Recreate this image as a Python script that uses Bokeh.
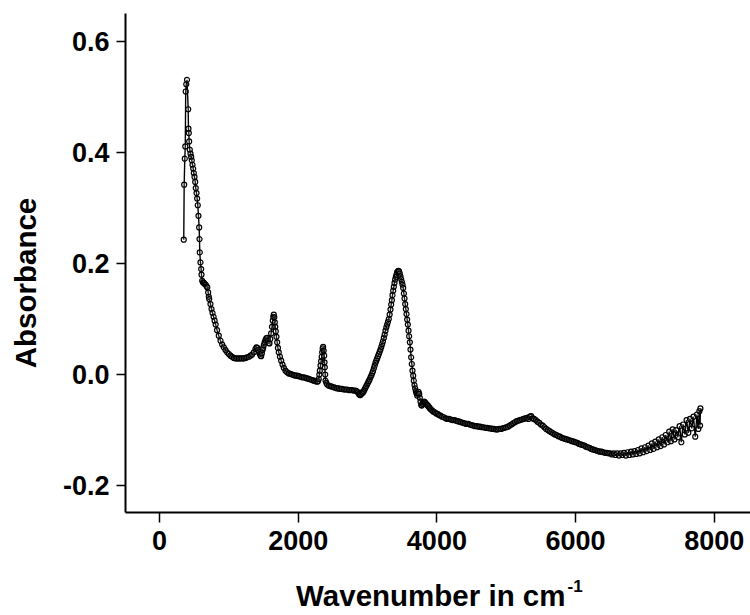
import numpy as np
from bokeh.plotting import figure
from bokeh.models import Range1d, FixedTicker, Label
from bokeh.embed import file_html
from bokeh.resources import INLINE

# ---- data ----
wn1 = [350, 356, 365, 372, 378,
       386, 397, 414, 418, 423,
       428, 437, 447, 457, 466,
       476, 486, 495, 505, 515,
       523, 534, 543, 552, 562,
       572, 577, 581, 591, 601,
       606, 616, 628, 639, 652,
       668, 680, 690, 702, 711,
       717]
ab1 = [0.243, 0.342, 0.389, 0.411, 0.510,
       0.523, 0.531, 0.478, 0.443, 0.435,
       0.420, 0.405, 0.398, 0.392, 0.386,
       0.378, 0.371, 0.363, 0.356, 0.347,
       0.336, 0.327, 0.317, 0.305, 0.286,
       0.265, 0.244, 0.220, 0.202, 0.190,
       0.180, 0.169, 0.166, 0.165, 0.163,
       0.162, 0.159, 0.157, 0.148, 0.140,
       0.136]

wn2 = [735, 750, 765, 780, 795,
       810, 830, 855, 880, 904,
       927, 952, 976, 1000, 1024,
       1048, 1072, 1096, 1120, 1144,
       1168, 1192, 1216, 1240, 1264,
       1288, 1312, 1336, 1360, 1384,
       1398, 1410, 1422, 1434, 1447,
       1458, 1466]
ab2 = [0.127, 0.118, 0.111, 0.104, 0.097,
       0.090, 0.080, 0.070, 0.061, 0.054,
       0.049, 0.044, 0.040, 0.037, 0.034,
       0.032, 0.030, 0.029, 0.029, 0.029,
       0.029, 0.029, 0.029, 0.030, 0.031,
       0.032, 0.034, 0.036, 0.040, 0.046,
       0.049, 0.048, 0.044, 0.040, 0.037,
       0.034, 0.033]

wn3 = [1476, 1486, 1495, 1505, 1516,
       1528, 1540, 1553, 1564, 1575,
       1586, 1598, 1610, 1622, 1634,
       1641, 1648, 1656, 1663, 1670,
       1677, 1687, 1697, 1708, 1720,
       1737, 1755, 1774, 1793, 1817,
       1841, 1865, 1889, 1913, 1937,
       1961, 1985, 2009, 2033, 2057,
       2081, 2105, 2129, 2153, 2177,
       2202, 2226, 2250, 2274, 2287,
       2297, 2305, 2312, 2322, 2331,
       2339, 2346, 2353, 2360, 2367,
       2375, 2380, 2384, 2390, 2394,
       2405, 2418]
ab3 = [0.038, 0.044, 0.048, 0.053, 0.058,
       0.062, 0.065, 0.066, 0.061, 0.057,
       0.056, 0.064, 0.074, 0.086, 0.097,
       0.104, 0.108, 0.103, 0.094, 0.086,
       0.078, 0.068, 0.058, 0.048, 0.040,
       0.032, 0.025, 0.018, 0.012, 0.007,
       0.004, 0.002, 0.001, 0.000, -0.001,
       -0.002, -0.002, -0.003, -0.004, -0.005,
       -0.005, -0.006, -0.007, -0.008, -0.009,
       -0.010, -0.011, -0.012, -0.013, -0.012,
       -0.008, 0.000, 0.007, 0.016, 0.024,
       0.032, 0.040, 0.047, 0.050, 0.043,
       0.034, 0.022, 0.013, 0.000, -0.011,
       -0.015, -0.018]

wn4 = [2442, 2466, 2490, 2514, 2538,
       2562, 2586, 2610, 2634, 2658,
       2682, 2706, 2730, 2754, 2778,
       2802, 2826, 2845, 2860, 2875,
       2888, 2898, 2910, 2920, 2932,
       2946, 2958, 2970, 2982, 2994,
       3006, 3018, 3030, 3043, 3055,
       3067, 3079, 3091, 3103, 3115,
       3127, 3139, 3151, 3163, 3175,
       3187, 3199, 3211, 3223, 3235,
       3247, 3259, 3271, 3283, 3295,
       3307, 3319, 3331, 3341, 3351,
       3360, 3370, 3379, 3389, 3398,
       3408, 3418, 3427, 3437]
ab4 = [-0.020, -0.021, -0.022, -0.023, -0.024,
       -0.025, -0.025, -0.026, -0.026, -0.027,
       -0.027, -0.027, -0.028, -0.028, -0.028,
       -0.029, -0.029, -0.030, -0.032, -0.035,
       -0.037, -0.037, -0.035, -0.032, -0.033,
       -0.030, -0.027, -0.024, -0.021, -0.018,
       -0.015, -0.012, -0.009, -0.005, -0.002,
       0.002, 0.006, 0.011, 0.016, 0.021,
       0.025, 0.029, 0.033, 0.037, 0.041,
       0.045, 0.050, 0.055, 0.060, 0.066,
       0.072, 0.079, 0.085, 0.090, 0.095,
       0.100, 0.108, 0.117, 0.126, 0.134,
       0.143, 0.151, 0.158, 0.165, 0.171,
       0.176, 0.180, 0.184, 0.186]

wn5 = [3446, 3455, 3465, 3475, 3485,
       3495, 3504, 3514, 3524, 3533,
       3543, 3552, 3562, 3571, 3581,
       3591, 3600, 3610, 3619, 3629,
       3638, 3648, 3658, 3667, 3677,
       3687, 3697, 3706, 3716, 3725,
       3735, 3745, 3754, 3764, 3774,
       3784, 3795, 3806, 3817, 3828,
       3840, 3852, 3864, 3876, 3888,
       3900, 3915, 3932, 3950]
ab5 = [0.187, 0.186, 0.182, 0.177, 0.172,
       0.167, 0.162, 0.156, 0.146, 0.137,
       0.127, 0.118, 0.109, 0.099, 0.090,
       0.079, 0.069, 0.058, 0.045, 0.031,
       0.019, 0.007, -0.002, -0.011, -0.019,
       -0.025, -0.030, -0.034, -0.038, -0.034,
       -0.031, -0.035, -0.042, -0.049, -0.055,
       -0.056, -0.053, -0.050, -0.049, -0.050,
       -0.052, -0.054, -0.055, -0.057, -0.059,
       -0.061, -0.063, -0.065, -0.067]

wn6 = [3970, 3990, 4010, 4030, 4050,
       4075, 4100, 4125, 4150, 4175,
       4200, 4225, 4250, 4275, 4300,
       4325, 4350, 4375, 4400, 4425,
       4450, 4475, 4500, 4525, 4550,
       4575, 4600, 4625, 4650, 4675,
       4700, 4725, 4750, 4775, 4800,
       4825, 4850, 4875, 4900, 4925,
       4950, 4975, 5000, 5025, 5050,
       5075, 5100, 5125, 5150, 5175,
       5200, 5225, 5250, 5275, 5300,
       5320, 5340, 5360, 5380, 5400,
       5425, 5450, 5475, 5500, 5525,
       5550, 5575, 5600, 5625, 5650,
       5675, 5700, 5725, 5750, 5775,
       5800, 5825, 5850, 5875, 5900,
       5925, 5950, 5975, 6000, 6025,
       6050, 6075, 6100, 6125, 6150,
       6175, 6200, 6225, 6250, 6275,
       6300, 6325, 6350, 6375, 6400,
       6425, 6450, 6475]
ab6 = [-0.068, -0.070, -0.071, -0.073, -0.074,
       -0.076, -0.077, -0.079, -0.080, -0.080,
       -0.081, -0.082, -0.082, -0.083, -0.084,
       -0.085, -0.086, -0.087, -0.088, -0.089,
       -0.089, -0.090, -0.091, -0.092, -0.093,
       -0.093, -0.094, -0.094, -0.095, -0.095,
       -0.096, -0.096, -0.097, -0.097, -0.098,
       -0.098, -0.099, -0.099, -0.098, -0.098,
       -0.097, -0.096, -0.095, -0.094, -0.092,
       -0.090, -0.088, -0.086, -0.084, -0.083,
       -0.082, -0.081, -0.080, -0.079, -0.078,
       -0.080, -0.076, -0.075, -0.079, -0.080,
       -0.082, -0.085, -0.087, -0.090, -0.092,
       -0.095, -0.098, -0.100, -0.102, -0.104,
       -0.106, -0.108, -0.109, -0.111, -0.112,
       -0.114, -0.115, -0.116, -0.117, -0.118,
       -0.119, -0.120, -0.121, -0.122, -0.123,
       -0.125, -0.126, -0.127, -0.128, -0.130,
       -0.131, -0.132, -0.134, -0.135, -0.136,
       -0.137, -0.138, -0.139, -0.139, -0.140,
       -0.141, -0.141, -0.142]

wn7 = [6500, 6525, 6550, 6575, 6600,
       6625, 6650, 6675, 6700, 6725,
       6750, 6775, 6800, 6825, 6850,
       6875, 6900, 6925, 6950, 6975,
       7000, 7025, 7050, 7075, 7100,
       7125, 7150, 7175, 7200, 7225,
       7250, 7275, 7300, 7325, 7350,
       7375, 7400, 7425, 7450, 7475,
       7500, 7525, 7550, 7575, 7600,
       7625, 7650, 7675, 7700, 7725,
       7750, 7770, 7785, 7795, 7800]
ab7 = [-0.142, -0.144, -0.142, -0.145, -0.142,
       -0.146, -0.142, -0.145, -0.141, -0.146,
       -0.140, -0.145, -0.139, -0.144, -0.138,
       -0.143, -0.136, -0.142, -0.133, -0.140,
       -0.131, -0.138, -0.128, -0.136, -0.124,
       -0.134, -0.121, -0.131, -0.117, -0.129,
       -0.113, -0.126, -0.109, -0.122, -0.103,
       -0.120, -0.099, -0.117, -0.100, -0.113,
       -0.093, -0.122, -0.090, -0.108, -0.082,
       -0.105, -0.080, -0.097, -0.076, -0.112,
       -0.072, -0.098, -0.066, -0.092, -0.061]

x_ticks = [0, 2000, 4000, 6000, 8000]
x_tick_labels = ["0", "2000", "4000", "6000", "8000"]
y_ticks = [-0.2, 0.0, 0.2, 0.4, 0.6]
y_tick_labels = ["-0.2", "0.0", "0.2", "0.4", "0.6"]

x_title = "Wavenumber in cm"
x_title_sup = "-1"
y_title = "Absorbance"

wavenumber = wn1 + wn2 + wn3 + wn4 + wn5 + wn6 + wn7
absorbance = ab1 + ab2 + ab3 + ab4 + ab5 + ab6 + ab7

X_START, X_END = -490, 8522
Y_START, Y_END = -0.2486, 0.6505

FONT = "Liberation Sans"

p = figure(width=750, height=615, output_backend="svg", toolbar_location=None,
           x_range=Range1d(X_START, X_END), y_range=Range1d(Y_START, Y_END),
           min_border_left=125, min_border_right=0, min_border_top=13,
           min_border_bottom=103)
p.outline_line_color = None
p.xgrid.visible = False
p.ygrid.visible = False
p.background_fill_color = "white"
p.border_fill_color = "white"

p.line(wavenumber, absorbance, line_color="black", line_width=1.4)
p.scatter(wavenumber, absorbance, marker="circle", size=5,
          fill_color="white", fill_alpha=0.12, line_color="black", line_width=1.2)

for ax, ticks, labels, tout, stand in ((p.xaxis[0], x_ticks, x_tick_labels, 10, 8),
                                       (p.yaxis[0], y_ticks, y_tick_labels, 9, 7)):
    ax.ticker = FixedTicker(ticks=ticks)
    ax.major_label_overrides = {t: l for t, l in zip(ticks, labels)}
    ax.axis_line_width = 2
    ax.axis_line_color = "black"
    ax.major_tick_line_width = 1.5
    ax.major_tick_line_color = "black"
    ax.major_tick_in = 0
    ax.major_tick_out = tout
    ax.minor_tick_in = 0
    ax.minor_tick_out = 0
    ax.major_label_standoff = stand
    ax.major_label_text_font = FONT
    ax.major_label_text_font_size = "27px"
    ax.major_label_text_font_style = "bold"
    ax.major_label_text_color = "black"
    ax.axis_label = None

# axis titles, placed in the side panels so they are not clipped to the frame
common = dict(text_font=FONT, text_font_style="bold", text_color="black")
p.add_layout(Label(x=X_START, y=(Y_START + Y_END) / 2, x_offset=-100, y_offset=-20,
                   text=y_title, angle=np.pi / 2, text_align="center",
                   text_baseline="alphabetic", text_font_size="29.5px", **common), "left")
p.add_layout(Label(x=X_START, y=Y_START, x_offset=440, y_offset=-83,
                   text=x_title, text_align="right", text_baseline="alphabetic",
                   text_font_size="29.5px", **common), "below")
p.add_layout(Label(x=X_START, y=Y_START, x_offset=442, y_offset=-73,
                   text=x_title_sup, text_align="left", text_baseline="alphabetic",
                   text_font_size="17px", **common), "below")

open("out.html", "w").write(file_html(p, INLINE))
